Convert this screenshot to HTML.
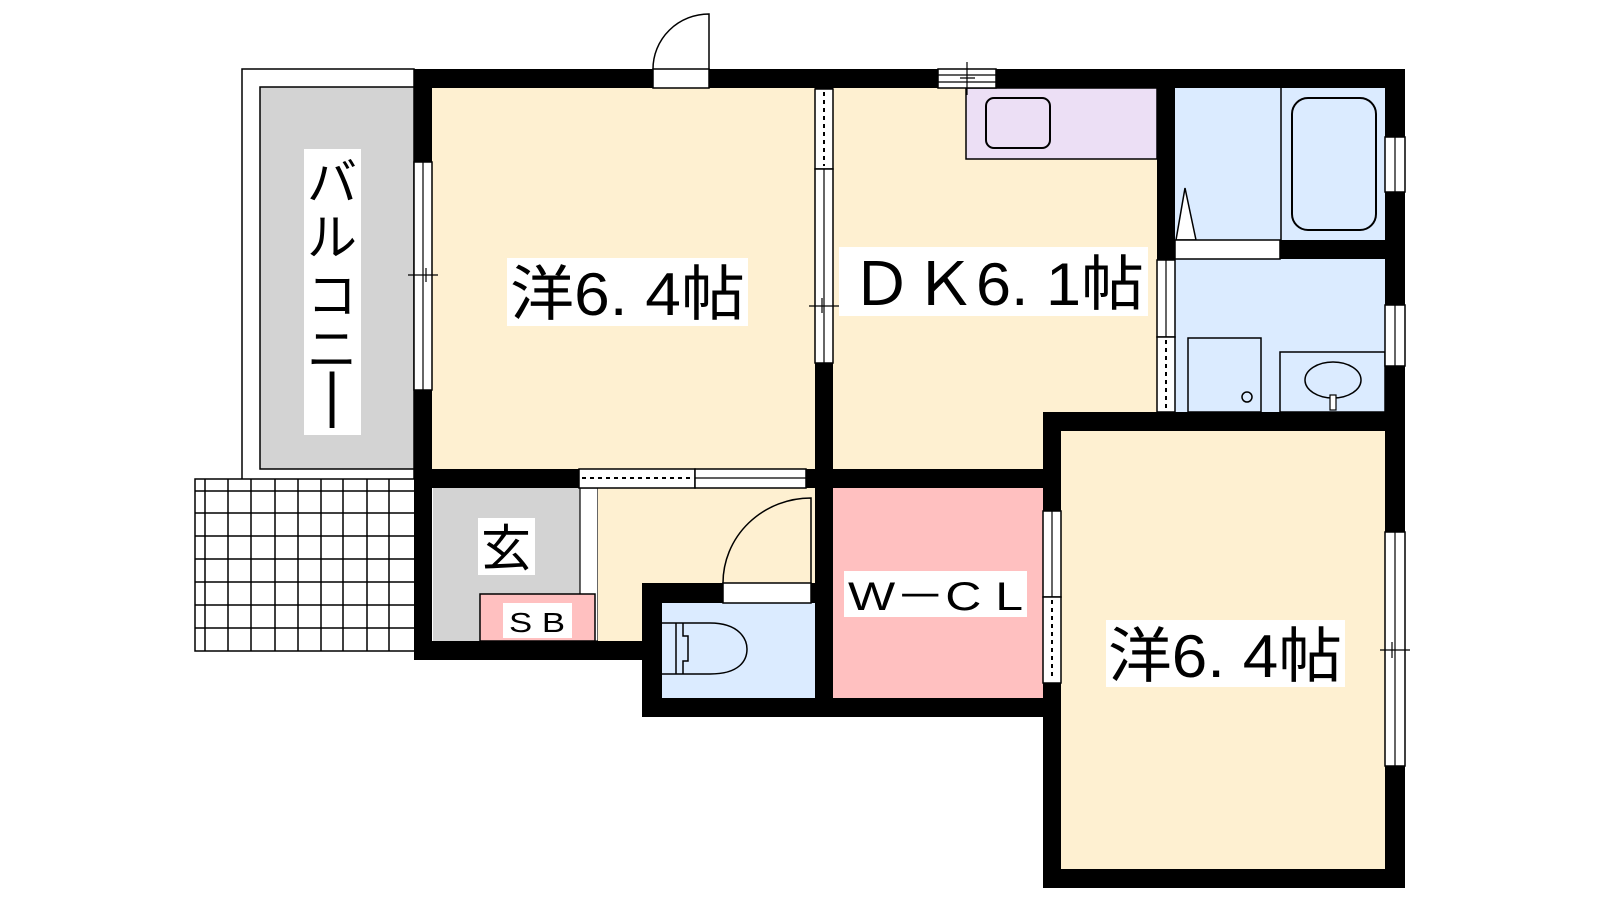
<!DOCTYPE html>
<html><head><meta charset="utf-8"><style>html,body{margin:0;padding:0;background:#fff}svg{display:block}</style></head>
<body>
<svg width="1600" height="900" viewBox="0 0 1600 900" xmlns="http://www.w3.org/2000/svg" font-family="'Liberation Sans','Noto Sans CJK JP',sans-serif">
<!-- balcony -->
<rect x="242" y="69" width="172" height="419" fill="#fff" stroke="#000" stroke-width="1.5"/>
<rect x="260" y="87" width="154" height="382" fill="#d3d3d3" stroke="#000" stroke-width="1.5"/>
<!-- grid -->
<g stroke="#000" stroke-width="1.5" fill="#fff">
<rect x="195" y="479" width="220" height="172"/>
<path d="M205 479V651M228 479V651M251 479V651M275 479V651M298 479V651M321 479V651M343 479V651M367 479V651M389 479V651M195 491H415M195 513H415M195 536H415M195 559H415M195 582H415M195 605H415M195 628H415"/>
</g>
<!-- room fills -->
<rect x="432" y="88" width="383" height="381" fill="#fef0d1"/>
<rect x="833" y="88" width="324" height="381" fill="#fef0d1"/>
<rect x="966" y="88" width="191" height="71" fill="#ecdff5" stroke="#000" stroke-width="1.5"/>
<rect x="986" y="98" width="64" height="50" rx="8" fill="none" stroke="#000" stroke-width="2"/>
<rect x="1175" y="88" width="210" height="324" fill="#dbebff"/>
<line x1="1281" y1="88" x2="1281" y2="240" stroke="#000" stroke-width="1.5"/>
<rect x="1292" y="98" width="84" height="132" rx="16" fill="none" stroke="#000" stroke-width="2"/>
<polygon points="1176,240 1185,188 1196,240" fill="#fff" stroke="#000" stroke-width="1.5"/>
<rect x="1188" y="338" width="73" height="74" fill="none" stroke="#000" stroke-width="1.5"/>
<circle cx="1247" cy="397" r="5" fill="none" stroke="#000" stroke-width="1.5"/>
<rect x="1280" y="352" width="105" height="60" fill="none" stroke="#000" stroke-width="1.5"/>
<ellipse cx="1333" cy="380" rx="28" ry="18" fill="none" stroke="#000" stroke-width="1.5"/>
<rect x="1330" y="395" width="6" height="15" fill="#fff" stroke="#000" stroke-width="1.2"/>
<rect x="1061" y="431" width="325" height="438" fill="#fef0d1"/>
<rect x="833" y="488" width="210" height="210" fill="#ffc0c0"/>
<rect x="433" y="488" width="147" height="153" fill="#d3d3d3"/>
<rect x="580" y="488" width="18" height="153" fill="#fff" stroke="#000" stroke-width="1.2"/>
<rect x="598" y="488" width="217" height="153" fill="#fef0d1"/>
<rect x="480" y="594" width="115" height="47" fill="#ffc0c0" stroke="#000" stroke-width="1.5"/>
<rect x="662" y="603" width="153" height="95" fill="#dbebff"/>
<!-- toilet -->
<g fill="none" stroke="#000" stroke-width="1.5">
<path d="M662 623H710C740 623 747 640 747 649C747 660 740 674 710 674H662"/>
<path d="M676 623V674M683 623V636H688V661H683V674"/>
</g>
<!-- walls -->
<g fill="#000">
<rect x="414" y="69" width="991" height="19"/>
<rect x="414" y="69" width="18" height="591"/>
<rect x="1385" y="69" width="20" height="819"/>
<rect x="815" y="69" width="18" height="648"/>
<rect x="1157" y="69" width="18" height="362"/>
<rect x="1175" y="240" width="210" height="19"/>
<rect x="1043" y="412" width="362" height="19"/>
<rect x="1043" y="412" width="18" height="476"/>
<rect x="1043" y="869" width="362" height="19"/>
<rect x="414" y="469" width="629" height="19"/>
<rect x="414" y="641" width="248" height="19"/>
<rect x="642" y="583" width="20" height="134"/>
<rect x="642" y="583" width="173" height="20"/>
<rect x="642" y="698" width="419" height="19"/>
</g>
<!-- openings -->
<g fill="#fff" stroke="#000" stroke-width="1.5">
<rect x="653" y="69" width="56" height="19"/>
<path d="M653 69A56 55 0 0 1 709 14V69" fill="none"/>
<rect x="938" y="69" width="58" height="19"/>
<rect x="1175" y="240" width="105" height="19"/>
<rect x="414" y="162" width="18" height="228"/>
<rect x="815" y="89" width="18" height="80"/>
<rect x="815" y="169" width="18" height="194"/>
<rect x="1157" y="260" width="18" height="77"/>
<rect x="1157" y="337" width="18" height="75"/>
<rect x="1385" y="137" width="20" height="55"/>
<rect x="1385" y="305" width="20" height="61"/>
<rect x="1385" y="532" width="20" height="234"/>
<rect x="1043" y="511" width="18" height="86"/>
<rect x="1043" y="597" width="18" height="86"/>
<rect x="579" y="469" width="116" height="19"/>
<rect x="695" y="469" width="111" height="19"/>
<rect x="723" y="583" width="88" height="20"/>
<path d="M723 583A88 85 0 0 1 811 498V583" fill="none"/>
</g>
<g stroke="#000" stroke-width="1.2" fill="none">
<path d="M938 75H996M938 82H996M967 62V95M960 78H975"/>
<path d="M423 162V390M408 275H438M426 268V282"/>
<path d="M824 169V363M809 306H839M822 298V313"/>
<path d="M1166 260V337M1395 137V192M1395 305V366"/>
<path d="M1395 532V766M1380 650H1410M1392 642V658"/>
<path d="M1052 511V597M695 478H806M1281 248V250"/>
</g>
<g stroke="#000" stroke-width="2" stroke-dasharray="4 4" fill="none">
<path d="M824 92V166M1166 340V410M1052 600V680M582 478H692"/>
</g>
<!-- labels -->
<g font-size="60">
<rect x="507" y="258" width="241" height="68" fill="#fff"/>
<text x="510" y="315" textLength="235" lengthAdjust="spacingAndGlyphs">洋6. 4帖</text>
<rect x="839" y="247" width="309" height="69" fill="#fff"/>
<text x="850" y="305" textLength="294" lengthAdjust="spacingAndGlyphs">ＤＫ6. 1帖</text>
<rect x="1106" y="620" width="239" height="67" fill="#fff"/>
<text x="1108" y="677" textLength="234" lengthAdjust="spacingAndGlyphs">洋6. 4帖</text>
</g>
<rect x="304" y="149" width="57" height="286" fill="#fff"/>
<g font-size="50" text-anchor="middle">
<text x="332" y="200">バ</text><text x="332" y="255">ル</text><text x="332" y="313">コ</text><text x="332" y="367">ニ</text>
<text x="332" y="415" font-size="60">|</text>
</g>
<rect x="478" y="518" width="57" height="57" fill="#fff"/>
<text x="506" y="566" font-size="50" text-anchor="middle">玄</text>
<rect x="503" y="603" width="69" height="35" fill="#fff"/>
<text x="537" y="632" font-size="28" text-anchor="middle" textLength="56" lengthAdjust="spacingAndGlyphs">S B</text>
<rect x="844" y="571" width="183" height="46" fill="#fff"/>
<text x="848" y="610" font-size="40" textLength="175" lengthAdjust="spacingAndGlyphs">W－C L</text>
</svg>
</body></html>
